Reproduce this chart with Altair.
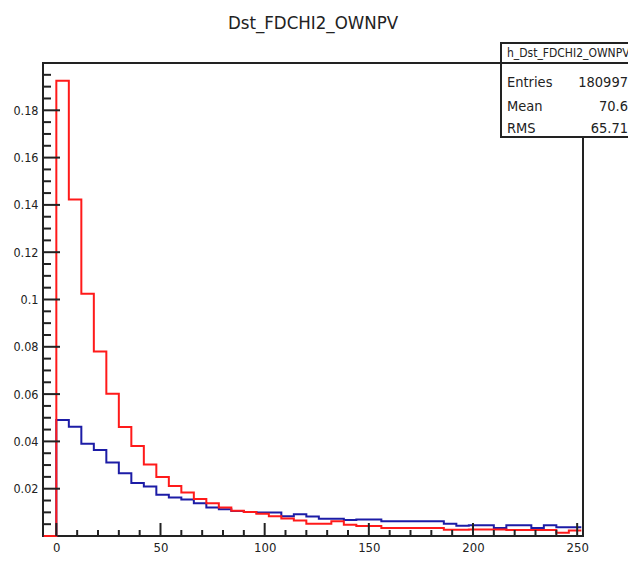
import altair as alt
import pandas as pd

# Normalised Dst_FDCHI2_OWNPV distributions, bins of width 6 starting at 0
bin_width = 6
first_edge = -6  # one empty bin below zero, as in the booked histogram range
red_vals = [0.1925, 0.1423, 0.1024, 0.0780, 0.0601, 0.0461, 0.0381, 0.0302,
            0.0249, 0.0211, 0.0184, 0.0156, 0.0138, 0.0121, 0.0107, 0.0102,
            0.0094, 0.0084, 0.0074, 0.0066, 0.0052, 0.0052, 0.0062, 0.0048,
            0.0042, 0.0042, 0.0034, 0.0034, 0.0034, 0.0034, 0.0034, 0.0026,
            0.0026, 0.0027, 0.0027, 0.0027, 0.0025, 0.0025, 0.0025, 0.0025,
            0.0014, 0.0023]
blue_vals = [0.0491, 0.0462, 0.0390, 0.0364, 0.0311, 0.0265, 0.0224, 0.0209,
             0.0174, 0.0163, 0.0154, 0.0138, 0.0121, 0.0113, 0.0106, 0.0101,
             0.0099, 0.0099, 0.0084, 0.0092, 0.0082, 0.0073, 0.0073, 0.0068,
             0.0070, 0.0070, 0.0062, 0.0062, 0.0062, 0.0062, 0.0062, 0.0052,
             0.0043, 0.0045, 0.0045, 0.0034, 0.0045, 0.0045, 0.0034, 0.0045,
             0.0037, 0.0037]

# axis ticks
x_major = [0, 50, 100, 150, 200, 250]
x_minor = [10, 20, 30, 40, 60, 70, 80, 90, 110, 120, 130, 140,
           160, 170, 180, 190, 210, 220, 230, 240]
y_major = [0.02, 0.04, 0.06, 0.08, 0.10, 0.12, 0.14, 0.16, 0.18]
y_minor = [0.005, 0.01, 0.015, 0.025, 0.03, 0.035, 0.045, 0.05, 0.055,
           0.065, 0.07, 0.075, 0.085, 0.09, 0.095, 0.105, 0.11, 0.115,
           0.125, 0.13, 0.135, 0.145, 0.15, 0.155, 0.165, 0.17, 0.175,
           0.185, 0.19, 0.195]

# statistics box
stat_header = "h_Dst_FDCHI2_OWNPV"
stat_names = ["Entries", "Mean", "RMS"]
stat_values = ["180997", "70.6", "65.71"]

title_text = "Dst_FDCHI2_OWNPV"

W, H = 540, 473
FONT = "DejaVu Sans Condensed, Liberation Sans Narrow, sans-serif"
INK = "#222222"

xscale = alt.Scale(domain=[-6.4, 252.8], nice=False, zero=False)
yscale = alt.Scale(domain=[0, 0.2], nice=False)

x_axis = alt.Axis(values=x_major, title=None, ticks=False, tickSize=0,
                  domain=False, grid=False, labelPadding=5,
                  labelFont=FONT, labelFontSize=13, labelColor=INK, format="d")
y_axis = alt.Axis(values=y_major, title=None, ticks=False, tickSize=0,
                  domain=False, grid=False, labelPadding=5,
                  labelFont=FONT, labelFontSize=12.5, labelColor=INK, format=".2~f")


def step_frame(vals):
    ys = [0.0] + list(vals) + [vals[-1]]
    xs = [first_edge + bin_width * k for k in range(len(ys))]
    return pd.DataFrame({"x": xs, "y": ys})


def hist_layer(vals, color):
    return alt.Chart(step_frame(vals)).mark_line(
        interpolate="step-after", color=color, strokeWidth=2
    ).encode(x=alt.X("x:Q", scale=xscale, axis=x_axis),
             y=alt.Y("y:Q", scale=yscale, axis=y_axis))


blue = hist_layer(blue_vals, "#1c1ca6")
red = hist_layer(red_vals, "#ff1a1a")


def ytick_layer(vals, length):
    return alt.Chart(pd.DataFrame({"y": vals})).mark_rule(
        color=INK, strokeWidth=2
    ).encode(y=alt.Y("y:Q", scale=yscale, axis=y_axis),
             x=alt.value(0), x2=alt.value(length))


def xtick_layer(vals, length):
    return alt.Chart(pd.DataFrame({"x": vals})).mark_rule(
        color=INK, strokeWidth=2
    ).encode(x=alt.X("x:Q", scale=xscale, axis=x_axis),
             y=alt.value(H), y2=alt.value(H - length))


ticks = [ytick_layer(y_major, 17), ytick_layer(y_minor, 8),
         xtick_layer(x_major, 13), xtick_layer(x_minor, 6)]

one = pd.DataFrame({"a": [0]})

box = alt.Chart(one).mark_rect(fill="white", stroke=INK, strokeWidth=2).encode(
    x=alt.value(458), x2=alt.value(620), y=alt.value(-20), y2=alt.value(74))
box_sep = alt.Chart(one).mark_rule(color=INK, strokeWidth=2).encode(
    x=alt.value(458), x2=alt.value(620), y=alt.value(0))

texts = [
    alt.Chart(one).mark_text(align="left", baseline="alphabetic", font=FONT,
                             fontSize=12, color=INK).encode(
        x=alt.value(464), y=alt.value(-6), text=alt.value(stat_header)),
    alt.Chart(one).mark_text(align="center", baseline="alphabetic", font=FONT,
                             fontSize=18.5, color=INK).encode(
        x=alt.value(W / 2), y=alt.value(-34.5), text=alt.value(title_text)),
]
for i, (name, val) in enumerate(zip(stat_names, stat_values)):
    yb = [23.7, 48, 70.3][i]
    texts.append(alt.Chart(one).mark_text(align="left", baseline="alphabetic", font=FONT,
                                          fontSize=14.5, color=INK).encode(
        x=alt.value(464), y=alt.value(yb), text=alt.value(name)))
    texts.append(alt.Chart(one).mark_text(align="right", baseline="alphabetic", font=FONT,
                                          fontSize=14.5, color=INK).encode(
        x=alt.value(585), y=alt.value(yb), text=alt.value(val)))

chart = alt.layer(blue, red, *ticks, box, box_sep, *texts).properties(
    width=W, height=H,
    autosize=alt.AutoSizeParams(type="none"),
    padding={"left": 43, "top": 63, "right": 45, "bottom": 25},
    background="white",
).configure_view(stroke=INK, strokeWidth=2)

chart.save("out.html", embed_options={"renderer": "svg", "actions": False})
